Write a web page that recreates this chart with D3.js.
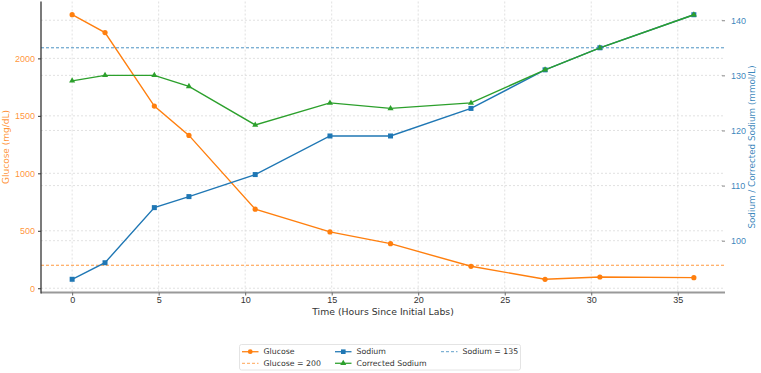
<!DOCTYPE html>
<html>
<head>
<meta charset="utf-8">
<script src="https://cdn.jsdelivr.net/npm/d3@7"></script>
<style>
  body { margin: 0; background: #fff; }
  svg { font-family: "DejaVu Sans", sans-serif; }
</style>
</head>
<body>
<svg id="chart" width="761" height="373"></svg>
<script>
// data
const hours = [0, 1.9, 4.75, 6.75, 10.58, 14.9, 18.4, 23.05, 27.33, 30.5, 35.93];
const glucose = [2380, 2225, 1585, 1330, 688, 490, 388, 191, 78, 98, 92];
const sodium = [93, 96, 106, 108, 112, 119, 119, 124, 131, 135, 141];
const correctedSodium = [129, 130, 130, 128, 121, 125, 124, 125, 131, 135, 141];
const glucoseRef = 200;
const sodiumRef = 135;
const xTicks = [0, 5, 10, 15, 20, 25, 30, 35];
const glucoseTicks = [0, 500, 1000, 1500, 2000];
const sodiumTicks = [100, 110, 120, 130, 140];

const ORANGE = "#ff7f0e", BLUE = "#1f77b4", GREEN = "#2ca02c";

const svg = d3.select("#chart");
const pLeft = 41, pRight = 725, pTop = 1.5, pBottom = 292.5;

const x = d3.scaleLinear().domain([-1.8, 37.73]).range([pLeft, pRight]);
const yG = d3.scaleLinear().domain([-37, 2495]).range([pBottom, pTop]);
const yS = d3.scaleLinear().domain([90.6, 143.4]).range([pBottom, pTop]);

// grid
const grid = svg.append("g").attr("stroke", "#d9d9d9").attr("stroke-width", 0.8)
  .attr("stroke-dasharray", "2,2");
grid.selectAll(".vx").data(xTicks).join("line")
  .attr("x1", d => x(d)).attr("x2", d => x(d)).attr("y1", pTop).attr("y2", pBottom);
grid.selectAll(".hg").data(glucoseTicks).join("line")
  .attr("x1", pLeft).attr("x2", pRight).attr("y1", d => yG(d)).attr("y2", d => yG(d));
grid.selectAll(".hs").data(sodiumTicks).join("line")
  .attr("x1", pLeft).attr("x2", pRight).attr("y1", d => yS(d)).attr("y2", d => yS(d));

// reference lines
svg.append("line").attr("x1", pLeft).attr("x2", pRight)
  .attr("y1", yG(glucoseRef)).attr("y2", yG(glucoseRef))
  .attr("stroke", ORANGE).attr("stroke-opacity", 0.8).attr("stroke-width", 1).attr("stroke-dasharray", "3,2");

const pts = (ys, scale) => hours.map((h, i) => [x(h), scale(ys[i])]);
const line = d3.line();

// glucose
svg.append("path").attr("d", line(pts(glucose, yG))).attr("fill", "none")
  .attr("stroke", ORANGE).attr("stroke-width", 1.4);
svg.append("g").selectAll("circle").data(pts(glucose, yG)).join("circle")
  .attr("cx", d => d[0]).attr("cy", d => d[1]).attr("r", 2.6).attr("fill", ORANGE);

// sodium
svg.append("path").attr("d", line(pts(sodium, yS))).attr("fill", "none")
  .attr("stroke", BLUE).attr("stroke-width", 1.4);
svg.append("g").selectAll("rect").data(pts(sodium, yS)).join("rect")
  .attr("x", d => d[0] - 2.5).attr("y", d => d[1] - 2.5).attr("width", 5).attr("height", 5)
  .attr("fill", BLUE);

// corrected sodium
const tri = d3.symbol().type(d3.symbolTriangle).size(16);
svg.append("path").attr("d", line(pts(correctedSodium, yS))).attr("fill", "none")
  .attr("stroke", GREEN).attr("stroke-width", 1.4);
svg.append("g").selectAll("path").data(pts(correctedSodium, yS)).join("path")
  .attr("d", tri).attr("transform", d => `translate(${d[0]},${d[1]})`).attr("fill", GREEN);

svg.append("line").attr("x1", pLeft).attr("x2", pRight)
  .attr("y1", yS(sodiumRef)).attr("y2", yS(sodiumRef))
  .attr("stroke", BLUE).attr("stroke-opacity", 0.8).attr("stroke-width", 1).attr("stroke-dasharray", "3,2");

// spines
svg.append("line").attr("x1", pLeft).attr("x2", pRight).attr("y1", pBottom).attr("y2", pBottom)
  .attr("stroke", "#999").attr("stroke-width", 2);
svg.append("line").attr("x1", pLeft).attr("x2", pLeft).attr("y1", pTop).attr("y2", pBottom + 1)
  .attr("stroke", "#333").attr("stroke-width", 1.3);

// axes
const xAxis = svg.append("g").attr("transform", `translate(0,${pBottom})`)
  .call(d3.axisBottom(x).tickValues(xTicks).tickSize(3).tickPadding(1).tickFormat(d3.format("d")));
xAxis.select(".domain").remove();
xAxis.selectAll("line").attr("stroke", "#666");
xAxis.selectAll("text").attr("fill", "#333").attr("font-size", 9);

const gAxis = svg.append("g").attr("transform", `translate(${pLeft},0)`)
  .call(d3.axisLeft(yG).tickValues(glucoseTicks).tickSize(3).tickPadding(3).tickFormat(d3.format("d")));
gAxis.select(".domain").remove();
gAxis.selectAll("line").attr("stroke", "#333");
gAxis.selectAll("text").attr("fill", ORANGE).attr("fill-opacity", 0.85).attr("font-size", 9);

const sAxis = svg.append("g").attr("transform", `translate(${pRight},0)`)
  .call(d3.axisRight(yS).tickValues(sodiumTicks).tickSize(3).tickPadding(3).tickFormat(d3.format("d")));
sAxis.select(".domain").remove();
sAxis.selectAll("line").attr("stroke", "#888").attr("x1", -3).attr("x2", 0);
sAxis.selectAll("text").attr("fill", BLUE).attr("fill-opacity", 0.9).attr("font-size", 9);

// axis labels
svg.append("text").attr("x", (pLeft + pRight) / 2).attr("y", 314.5).attr("text-anchor", "middle")
  .attr("font-size", 9.3).attr("fill", "#333").text("Time (Hours Since Initial Labs)");
svg.append("text").attr("transform", `translate(9,${(pTop + pBottom) / 2}) rotate(-90)`)
  .attr("text-anchor", "middle").attr("font-size", 9).attr("fill", ORANGE).attr("fill-opacity", 0.85)
  .text("Glucose (mg/dL)");
svg.append("text").attr("transform", `translate(755,${(pTop + pBottom) / 2}) rotate(-90)`)
  .attr("text-anchor", "middle").attr("font-size", 8.8).attr("fill", BLUE).attr("fill-opacity", 0.9)
  .text("Sodium / Corrected Sodium (mmol/L)");

// legend
const legendItems = [
  { label: "Glucose", color: ORANGE, dash: null, mark: "circle" },
  { label: "Glucose = 200", color: ORANGE, dash: "3,2", mark: null },
  { label: "Sodium", color: BLUE, dash: null, mark: "square" },
  { label: "Corrected Sodium", color: GREEN, dash: null, mark: "triangle" },
  { label: "Sodium = 135", color: BLUE, dash: "3,2", mark: null }
];
const lg = svg.append("g");
lg.append("rect").attr("x", 239.5).attr("y", 344.5).attr("width", 281).attr("height", 25.5)
  .attr("rx", 2).attr("fill", "#fff").attr("stroke", "#ddd").attr("stroke-width", 0.8);
const colX = [242, 335, 441], rowY = [351.7, 363.3];
legendItems.forEach((it, i) => {
  const cx = colX[Math.floor(i / 2)], cy = rowY[i % 2];
  const g = lg.append("g").attr("transform", `translate(${cx},${cy})`);
  g.append("line").attr("x1", 0).attr("x2", 16.5).attr("stroke", it.color)
    .attr("stroke-opacity", it.dash ? 0.7 : 0.9)
    .attr("stroke-width", it.dash ? 1 : 1.4).attr("stroke-dasharray", it.dash);
  if (it.mark === "circle") g.append("circle").attr("cx", 8.25).attr("r", 2.4).attr("fill", it.color);
  if (it.mark === "square") g.append("rect").attr("x", 6).attr("y", -2.3).attr("width", 4.6).attr("height", 4.6).attr("fill", it.color);
  if (it.mark === "triangle") g.append("path").attr("d", tri).attr("transform", "translate(8.25,0)").attr("fill", it.color);
  g.append("text").attr("x", 21.5).attr("dy", "0.35em").attr("font-size", 7.8).attr("fill", "#333").text(it.label);
});
</script>
</body>
</html>
